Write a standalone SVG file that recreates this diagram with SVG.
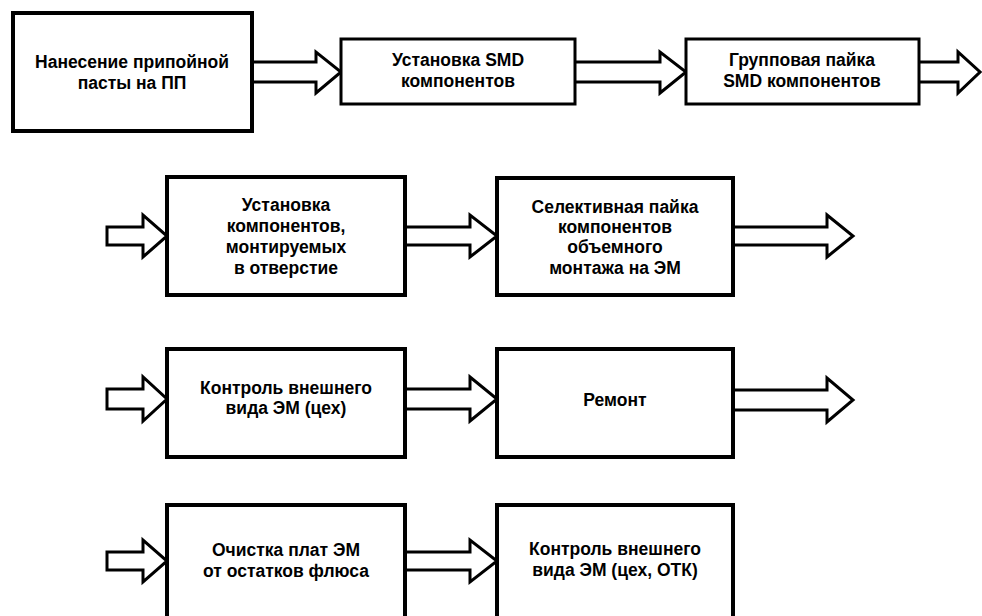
<svg xmlns="http://www.w3.org/2000/svg" width="982" height="616" viewBox="0 0 982 616">
<style>
.box{fill:#fff;stroke:#000;stroke-width:4}
.thin{stroke-width:3}
.arr{fill:#fff;stroke:#000;stroke-width:3;stroke-linejoin:miter}
text{font-family:"Liberation Sans",Arial,sans-serif;font-weight:bold;font-size:17.5px;text-anchor:middle;fill:#000}
</style>
<rect width="982" height="616" fill="#fff"/>
<g id="connectors">
<polyline class="arr" points="252,62 316,62 316,52 341,72 316,93 316,82 252,82"/>
<polyline class="arr" points="575,62 660,62 660,52 686,72 660,93 660,82 575,82"/>
<polyline class="arr" points="919,62 958,62 958,52 980,72 958,93 958,82 919,82"/>
<polygon class="arr" points="107,227 143,227 143,215 167,236 143,257 143,245 107,245"/>
<polyline class="arr" points="405,227 470,227 470,215 497,236 470,257 470,245 405,245"/>
<polyline class="arr" points="733,227 827,227 827,215 853,236 827,257 827,245 733,245"/>
<polygon class="arr" points="107,389 143,389 143,377 167,399 143,421 143,409 107,409"/>
<polyline class="arr" points="405,389 470,389 470,377 497,399 470,421 470,409 405,409"/>
<polyline class="arr" points="733,390 827,390 827,378 853,400 827,422 827,410 733,410"/>
<polygon class="arr" points="107,552 143,552 143,540 167,561 143,582 143,570 107,570"/>
<polyline class="arr" points="405,552 470,552 470,540 497,561 470,582 470,570 405,570"/>
</g>
<g id="n1"><rect class="box" x="13" y="13" width="239" height="118"/>
<text x="132" y="68">Нанесение припойной</text><text x="132" y="89">пасты на ПП</text></g>
<g id="n2"><rect class="box thin" x="341" y="39" width="234" height="65"/>
<text x="458" y="66">Установка SMD</text><text x="458" y="87">компонентов</text></g>
<g id="n3"><rect class="box thin" x="686" y="39" width="233" height="65"/>
<text x="802" y="66">Групповая пайка</text><text x="802" y="87">SMD компонентов</text></g>
<g id="n4"><rect class="box" x="167" y="177" width="238" height="118"/>
<text x="286" y="211">Установка</text><text x="286" y="232">компонентов,</text><text x="286" y="253">монтируемых</text><text x="286" y="274">в отверстие</text></g>
<g id="n5"><rect class="box" x="497" y="178" width="236" height="117"/>
<text x="615" y="213">Селективная пайка</text><text x="615" y="233">компонентов</text><text x="615" y="253">объемного</text><text x="615" y="274">монтажа на ЭМ</text></g>
<g id="n6"><rect class="box" x="167" y="349" width="238" height="108"/>
<text x="286" y="394">Контроль внешнего</text><text x="286" y="414">вида ЭМ (цех)</text></g>
<g id="n7"><rect class="box" x="497" y="349" width="236" height="108"/>
<text x="615" y="406">Ремонт</text></g>
<g id="n8"><rect class="box" x="167" y="505" width="238" height="120"/>
<text x="286" y="556">Очистка плат ЭМ</text><text x="286" y="577">от остатков флюса</text></g>
<g id="n9"><rect class="box" x="497" y="505" width="236" height="120"/>
<text x="615" y="555">Контроль внешнего</text><text x="615" y="576">вида ЭМ (цех, ОТК)</text></g>
</svg>
